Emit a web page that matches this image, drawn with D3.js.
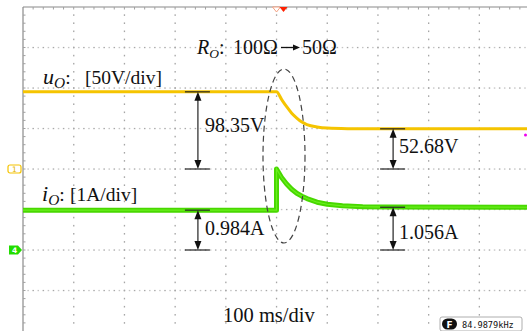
<!DOCTYPE html>
<html>
<head>
<meta charset="utf-8">
<script src="https://cdn.jsdelivr.net/npm/d3@7"></script>
<style>
  html, body { margin: 0; padding: 0; background: #fff; }
  svg { display: block; }
  .serif { font-family: "Liberation Serif", "Times New Roman", serif; fill: #111; }
</style>
</head>
<body>
<svg id="chart" width="527" height="331"></svg>
<script>
// Time base (ms), 100 ms/div, step load change at t = 0
const timeMs   = [-500, 0, 10, 20, 30, 40, 50, 60, 80, 100, 140, 200, 500];
// Output voltage u_O (V), channel 1, 50 V/div
const voltageV = [98.35, 98.35, 89.0, 80.0, 72.0, 66.0, 61.0, 58.0, 55.0, 53.6, 52.9, 52.68, 52.68];

const currentTimeMs = [-500, 0, 0, 10, 20, 30, 40, 50, 60, 80, 100, 130, 170, 220, 500];
// Output current i_O (A), channel 4, 1 A/div
const currentA      = [0.984, 0.984, 2.0, 1.79, 1.63, 1.50, 1.40, 1.33, 1.27, 1.18, 1.13, 1.09, 1.07, 1.06, 1.056];

// Annotated steady-state values
const voltageBefore = 98.35, voltageAfter = 52.68;
const currentBefore = 0.984, currentAfter = 1.056;

const labels = {
  voltScale: "[50V/div]",
  currScale: "[1A/div]",
  loadFrom: "100Ω",
  loadTo: "50Ω",
  timeScale: "100 ms/div",
  freq: "84.9879kHz"
};

(function draw() {
const svg = d3.select("#chart");

// Screen geometry: 10 x 8 divisions
const gLeft = 23, gTop = 7, divW = 50.7, divH = 40.5;
const gRight = gLeft + 10 * divW, gBottom = gTop + 8 * divH;

const x  = d3.scaleLinear().domain([-500, 500]).range([gLeft, gRight]);
// ch1 ground marker slightly below center row
const yV = d3.scaleLinear().domain([-200, 200]).range([gBottom + 2.5, gTop + 2.5]);
// ch4 ground two divisions below center
const yI = d3.scaleLinear().domain([-2, 6]).range([gBottom, gTop]);

// ----- graticule -----
const grid = svg.append("g");
for (let i = 1; i < 10; i++) {
  const gx = gLeft + i * divW;
  for (let k = 1; k < 40; k++) {
    grid.append("rect").attr("x", gx - 0.6).attr("y", gTop + k * divH / 5 - 0.8)
      .attr("width", 1.3).attr("height", 1.6).attr("fill", "#a6a6a6");
  }
}
for (let j = 1; j < 8; j++) {
  const gy = gTop + j * divH;
  for (let k = 1; k < 100; k++) {
    grid.append("rect").attr("x", gLeft + k * divW / 10 - 0.7).attr("y", gy - 0.6)
      .attr("width", 1.5).attr("height", 1.3).attr("fill", k % 2 ? "#c4c4c4" : "#a8a8a8");
  }
}
// border with minor ticks
grid.append("line").attr("x1", gLeft).attr("x2", 527).attr("y1", gTop).attr("y2", gTop)
  .attr("stroke", "#8a8a8a").attr("stroke-width", 1.2);
grid.append("line").attr("x1", gLeft).attr("x2", gLeft).attr("y1", gTop).attr("y2", 331)
  .attr("stroke", "#8a8a8a").attr("stroke-width", 1.2);
for (let k = 1; k < 50; k++) {
  grid.append("line").attr("x1", gLeft + k * divW / 5).attr("x2", gLeft + k * divW / 5)
    .attr("y1", gTop).attr("y2", gTop + 2.5).attr("stroke", "#a0a0a0");
}
for (let k = 1; k < 40; k++) {
  grid.append("line").attr("x1", gLeft).attr("x2", gLeft + 2.5)
    .attr("y1", gTop + k * divH / 5).attr("y2", gTop + k * divH / 5).attr("stroke", "#a0a0a0");
}

// ----- traces -----
const vLine = d3.line().x((d, i) => x(timeMs[i])).y(d => yV(d)).curve(d3.curveMonotoneX);
svg.append("path").attr("d", vLine(voltageV))
  .attr("fill", "none").attr("stroke", "#f5c400").attr("stroke-width", 3);

const iLine = d3.line().x((d, i) => x(currentTimeMs[i])).y(d => yI(d)).curve(d3.curveLinear);
svg.append("path").attr("d", iLine(currentA))
  .attr("fill", "none").attr("stroke", "#48d800").attr("stroke-width", 5)
  .attr("stroke-linejoin", "round");
svg.append("path").attr("d", iLine(currentA))
  .attr("fill", "none").attr("stroke", "#80ff30").attr("stroke-width", 1.2).attr("opacity", 0.6);

// ----- trigger markers at top -----
svg.append("path").attr("d", `M${x(0) - 4},${gTop} L${x(0) + 4},${gTop} L${x(0)},${gTop + 5} Z`)
  .attr("fill", "#fff").attr("stroke", "#f4a080").attr("stroke-width", 1);
svg.append("path").attr("d", `M${x(0) + 3},${gTop} L${x(0) + 11},${gTop} L${x(0) + 7},${gTop + 5} Z`)
  .attr("fill", "#ff2000");

// ----- channel markers -----
const m1y = yV(0) - 2.5;
svg.append("rect").attr("x", 8).attr("y", m1y - 4).attr("width", 13).attr("height", 8).attr("rx", 2)
  .attr("fill", "#fff").attr("stroke", "#f5c400").attr("stroke-width", 1.2);
svg.append("text").attr("x", 14.5).attr("y", m1y + 3).attr("text-anchor", "middle")
  .attr("font-family", "DejaVu Sans").attr("font-size", 7.5).attr("fill", "#e0b000").text("1");
const m4y = yI(0);
svg.append("path").attr("d", `M9,${m4y - 4.5} L18,${m4y - 4.5} L22,${m4y} L18,${m4y + 4.5} L9,${m4y + 4.5} Z`)
  .attr("fill", "#22dd00");
svg.append("text").attr("x", 14.5).attr("y", m4y + 3).attr("text-anchor", "middle")
  .attr("font-family", "DejaVu Sans").attr("font-size", 7.5).attr("font-weight", "bold").attr("fill", "#fff").text("4");

// magenta level marker at right edge
svg.append("circle").attr("cx", 525.5).attr("cy", 135).attr("r", 1.5).attr("fill", "#ee00ee");

// ----- dashed ellipse round the transient -----
svg.append("ellipse").attr("cx", x(0) + 7.5).attr("cy", 156).attr("rx", 21).attr("ry", 87)
  .attr("fill", "none").attr("stroke", "#444").attr("stroke-width", 1.2).attr("stroke-dasharray", "6,4");

// ----- measurement arrows -----
function measure(xc, y1, y2) {
  const g = svg.append("g");
  g.append("line").attr("x1", xc - 13).attr("x2", xc + 12).attr("y1", y1).attr("y2", y1).attr("stroke", "#222").attr("stroke-width", 1.2);
  g.append("line").attr("x1", xc - 13).attr("x2", xc + 12).attr("y1", y2).attr("y2", y2).attr("stroke", "#222").attr("stroke-width", 1.2);
  g.append("line").attr("x1", xc).attr("x2", xc).attr("y1", y1 + 6).attr("y2", y2 - 6).attr("stroke", "#222").attr("stroke-width", 1.2);
  g.append("path").attr("d", `M${xc},${y1} L${xc - 3.5},${y1 + 9} L${xc + 3.5},${y1 + 9} Z`).attr("fill", "#111");
  g.append("path").attr("d", `M${xc},${y2} L${xc - 3.5},${y2 - 9} L${xc + 3.5},${y2 - 9} Z`).attr("fill", "#111");
}
const xa1 = x(-155), xa2 = x(230);
measure(xa1, yV(voltageBefore), yV(0) - 2.5);
measure(xa2, yV(voltageAfter), yV(0) - 2.5);
measure(xa1, yI(currentBefore), yI(0));
measure(xa2, yI(currentAfter), yI(0));

function valueText(tx, ty, s) {
  svg.append("text").attr("class", "serif").attr("x", tx).attr("y", ty)
    .attr("font-size", 20).text(s);
}
valueText(xa1 + 7, 132, voltageBefore.toFixed(2) + "V");
valueText(xa2 + 6, 153, voltageAfter.toFixed(2) + "V");
valueText(xa1 + 7, 235, currentBefore.toFixed(3) + "A");
valueText(xa2 + 6, 239, currentAfter.toFixed(3) + "A");

// ----- channel labels -----
function chanLabel(tx, ty, sym, symSize, scaleX, scaleTxt, fs) {
  const t = svg.append("text").attr("class", "serif").attr("x", tx).attr("y", ty).attr("font-size", fs);
  t.append("tspan").attr("font-style", "italic").attr("font-size", symSize).text(sym);
  t.append("tspan").attr("font-style", "italic").attr("font-size", symSize * 0.7).attr("dy", 4).text("O");
  t.append("tspan").attr("dy", -4).text(":");
  t.append("tspan").attr("x", scaleX).text(scaleTxt);
}
chanLabel(43, 84, "u", 22, 85, labels.voltScale, 19.5);
chanLabel(42, 200.5, "i", 22, 70, labels.currScale, 19.5);

// load step label
const rl = svg.append("text").attr("class", "serif").attr("x", 197).attr("y", 53.5).attr("font-size", 20);
rl.append("tspan").attr("font-style", "italic").text("R");
rl.append("tspan").attr("font-style", "italic").attr("font-size", 13.5).attr("dy", 4).text("O");
rl.append("tspan").attr("dy", -4).text(":");
rl.append("tspan").attr("x", 233).text(labels.loadFrom);
rl.append("tspan").attr("x", 302).text(labels.loadTo);
svg.append("line").attr("x1", 281).attr("x2", 294).attr("y1", 47.5).attr("y2", 47.5).attr("stroke", "#111").attr("stroke-width", 1.3);
svg.append("path").attr("d", "M300,47.5 L293,44.5 L293,50.5 Z").attr("fill", "#111");

// time base
svg.append("text").attr("class", "serif").attr("x", 223).attr("y", 322).attr("font-size", 20.5).text(labels.timeScale);

// frequency counter readout
const fb = svg.append("g");
fb.append("rect").attr("x", 440).attr("y", 317).attr("width", 82).attr("height", 14).attr("rx", 2)
  .attr("fill", "#fff").attr("stroke", "#999").attr("stroke-width", 0.8);
fb.append("rect").attr("x", 442).attr("y", 318.5).attr("width", 15).attr("height", 11).attr("rx", 5.5).attr("fill", "#111");
fb.append("text").attr("x", 449.5).attr("y", 327.5).attr("text-anchor", "middle")
  .attr("font-family", "DejaVu Sans").attr("font-weight", "bold").attr("font-size", 9).attr("fill", "#fff").text("F");
fb.append("text").attr("x", 462).attr("y", 327.5)
  .attr("font-family", "DejaVu Sans Mono").attr("font-size", 8.6).attr("fill", "#111").text(labels.freq);
})();
</script>
</body>
</html>
